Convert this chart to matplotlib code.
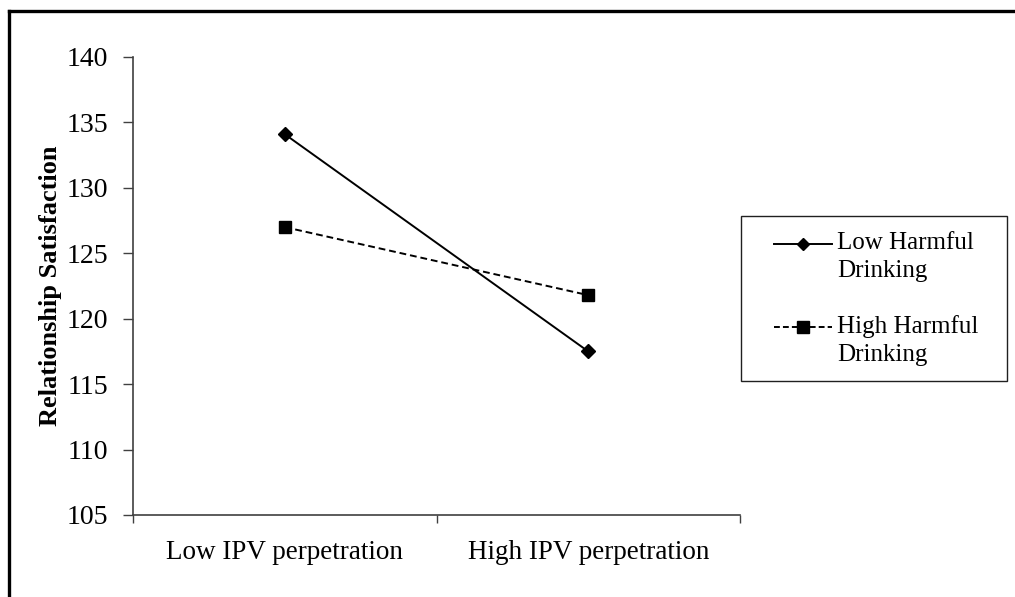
import numpy as np
import matplotlib
matplotlib.use("Agg")
import matplotlib.pyplot as plt
from matplotlib.lines import Line2D
from matplotlib.patches import Rectangle

# Data
categories = ["Low IPV perpetration", "High IPV perpetration"]
low_harmful = [134.1, 117.5]
high_harmful = [127.0, 121.8]
series_labels = ["Low Harmful\nDrinking", "High Harmful\nDrinking"]
y_ticks = [105, 110, 115, 120, 125, 130, 135, 140]

plt.rcParams['font.family'] = ['Liberation Serif', 'DejaVu Serif']

W, H = 1015, 597
fig = plt.figure(figsize=(W / 100, H / 100), dpi=100)
ax = fig.add_axes([133 / W, 1 - 515 / H, 607 / W, 458 / H])

x = np.arange(len(categories))
ax.plot(x, low_harmful, color='black', lw=1.4, marker='D', ms=7.5,
        label=series_labels[0])
ax.plot(x, high_harmful, color='black', lw=1.4, ls=(0, (3.5, 2)),
        marker='s', ms=9, label=series_labels[1])

ax.set_xlim(-0.5, 1.5)
ax.set_ylim(105, 140)
ax.set_yticks(y_ticks)
ax.set_xticks([-0.5, 0.5, 1.5])
ax.set_xticklabels([])
ax.set_xticks(x, minor=True)
ax.set_xticklabels(categories, minor=True)
ax.tick_params(axis='x', which='minor', length=0, pad=18, labelsize=19.5)
ax.tick_params(axis='x', which='major', direction='out', length=6, width=1, color='#404040')
ax.tick_params(axis='y', direction='out', length=7, width=1, color='#404040',
               pad=11, labelsize=20)
for s in ['top', 'right']:
    ax.spines[s].set_visible(False)
for s in ['left', 'bottom']:
    ax.spines[s].set_color('#404040')
    ax.spines[s].set_linewidth(1.2)

ax.set_ylabel("Relationship Satisfaction", fontsize=19, fontweight='bold', labelpad=3)

# legend box and entries
fig.add_artist(Rectangle((741 / W, 1 - 381 / H), 266 / W, 165 / H,
                         transform=fig.transFigure, fill=False,
                         edgecolor='#202020', lw=1.0))
handle_rows = [244, 327]
styles = [dict(ls='-', marker='D', ms=6), dict(ls=(0, (3, 1.6)), marker='s', ms=8)]
for row, st, lab in zip(handle_rows, styles, series_labels):
    yy = 1 - row / H
    fig.add_artist(Line2D([774 / W, 832 / W], [yy, yy], transform=fig.transFigure,
                          color='black', lw=1.4, ls=st['ls']))
    fig.add_artist(Line2D([803 / W], [yy], transform=fig.transFigure,
                          color='black', marker=st['marker'], ms=st['ms'], ls='none'))
    fig.text(837 / W, yy + 12 / H, lab, ha='left', va='top', fontsize=18,
             linespacing=1.35)

# outer frame (only top and left visible)
fig.add_artist(Line2D([8.5 / W, 1], [1 - 10.5 / H, 1 - 10.5 / H],
                      transform=fig.transFigure, color='black', lw=2.4))
fig.add_artist(Line2D([8.5 / W, 8.5 / W], [0, 1 - 10.5 / H],
                      transform=fig.transFigure, color='black', lw=2.4))

fig.savefig("out.png", dpi=100)
